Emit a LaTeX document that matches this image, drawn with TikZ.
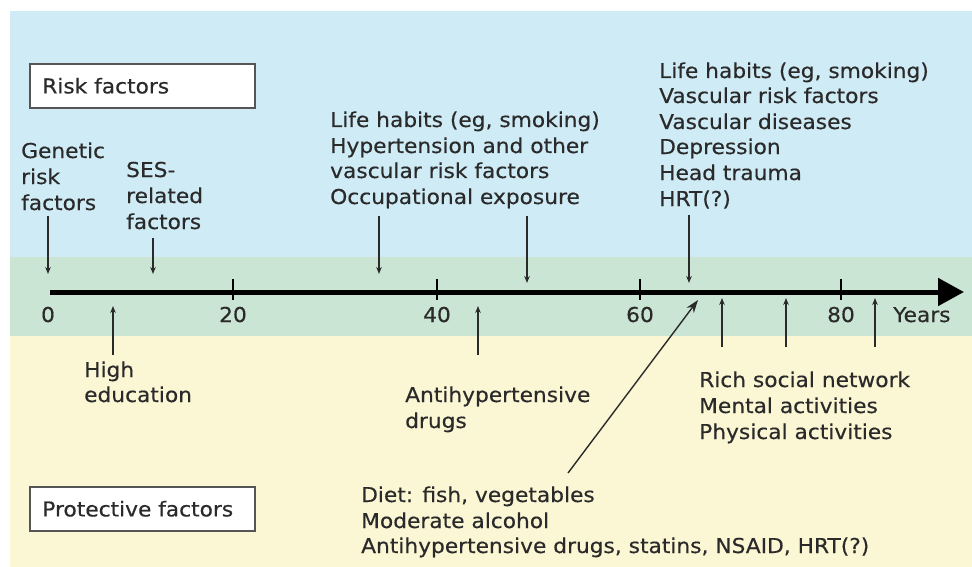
\documentclass[tikz,border=0pt]{standalone}
\usepackage{fontspec}
\setmainfont[FakeStretch=1.06,FakeBold=0.4]{DejaVu Sans}
\usetikzlibrary{arrows.meta}
\definecolor{skyb}{HTML}{CFEBF5}
\definecolor{bandg}{HTML}{CAE5D3}
\definecolor{sandy}{HTML}{FBF7D5}
\definecolor{ink}{HTML}{2A2A2A}
\definecolor{boxc}{HTML}{555555}
\begin{document}
\begin{tikzpicture}[x=1pt,y=-1pt,
  txt/.style={font=\fontsize{20.5}{25}\selectfont, text=ink, inner sep=0pt, anchor=base west},
  ticklbl/.style={font=\fontsize{20.5}{25}\selectfont, text=ink, inner sep=0pt, anchor=base},
  fbox/.style={draw=boxc, fill=white, line width=1.6pt, font=\fontsize{20.5}{25}\selectfont, text=ink,
    anchor=north west, minimum height=44pt, text width=200pt, inner xsep=12.5pt, align=left},
  pointer/.style={draw=ink, line width=1.4pt, -{Stealth[length=7pt,width=5.5pt]}},
  tickmark/.style={draw=black, line width=1.6pt}]
\useasboundingbox (0,0) rectangle (972,567);
\fill[white] (0,0) rectangle (972,567);
\fill[skyb] (10,11) rectangle (972,257);
\fill[bandg] (10,257) rectangle (972,336);
\fill[sandy] (10,336) rectangle (972,567);

% boxes
\node[fbox] (rf) at (29,63) {Risk factors};
\node[fbox] (pf) at (29,486) {Protective factors};

% axis
\coordinate (axs) at (50,292);
\coordinate (axe) at (964,292);
\draw[line width=5pt, -{Triangle[length=26pt,width=27pt]}] (axs) -- (axe);
\foreach \x/\n in {233/t20,437/t40,640/t60,841/t80}{
  \coordinate (\n a) at (\x,279);
  \coordinate (\n b) at (\x,300);
  \draw[tickmark] (\n a) -- (\n b);
}
\node[ticklbl] (l0) at (48,322) {0};
\node[ticklbl] (l20) at (233,322) {20};
\node[ticklbl] (l40) at (437,322) {40};
\node[ticklbl] (l60) at (640,322) {60};
\node[ticklbl] (l80) at (841,322) {80};
\node[txt] (yrs) at (893,322) {Years};

% risk texts
\node[txt] (g1) at (21,158) {Genetic};
\node[txt] (g2) at (21,184) {risk};
\node[txt] (g3) at (21,210) {factors};
\node[txt] (s1) at (126,177) {SES-};
\node[txt] (s2) at (126,203) {related};
\node[txt] (s3) at (126,229) {factors};
\node[txt] (m1) at (330,127) {Life habits (eg, smoking)};
\node[txt] (m2) at (330,153) {Hypertension and other};
\node[txt] (m3) at (330,178) {vascular risk factors};
\node[txt] (m4) at (330,204) {Occupational exposure};
\node[txt] (o1) at (659,78) {Life habits (eg, smoking)};
\node[txt] (o2) at (659,103) {Vascular risk factors};
\node[txt] (o3) at (659,129) {Vascular diseases};
\node[txt] (o4) at (659,154) {Depression};
\node[txt] (o5) at (659,180) {Head trauma};
\node[txt] (o6) at (659,206) {HRT(?)};

% protective texts
\node[txt] (h1) at (84,377) {High};
\node[txt] (h2) at (84,402) {education};
\node[txt] (a1) at (405,402) {Antihypertensive};
\node[txt] (a2) at (405,428) {drugs};
\node[txt] (r1) at (699,387) {Rich social network};
\node[txt] (r2) at (699,413) {Mental activities};
\node[txt] (r3) at (699,439) {Physical activities};
\node[txt] (d1) at (361,502) {Diet: fish, vegetables};
\node[txt] (d2) at (361,528) {Moderate alcohol};
\node[txt] (d3) at (361,553) {Antihypertensive drugs, statins, NSAID, HRT(?)};

% risk arrows
\coordinate (ga) at (48,216);  \coordinate (gb) at (48,274);
\coordinate (sa) at (153,238); \coordinate (sb) at (153,274);
\coordinate (ma) at (379,216); \coordinate (mb) at (379,274);
\coordinate (ea) at (527,216); \coordinate (eb) at (527,283);
\coordinate (oa) at (689,215); \coordinate (ob) at (689,283);
\draw[pointer] (ga) -- (gb);
\draw[pointer] (sa) -- (sb);
\draw[pointer] (ma) -- (mb);
\draw[pointer] (ea) -- (eb);
\draw[pointer] (oa) -- (ob);

% protective arrows
\coordinate (ha) at (113,355); \coordinate (hb) at (113,306);
\coordinate (aa) at (478,355); \coordinate (ab) at (478,306);
\coordinate (p1a) at (722,347); \coordinate (p1b) at (722,298);
\coordinate (p2a) at (786,347); \coordinate (p2b) at (786,298);
\coordinate (p3a) at (875,347); \coordinate (p3b) at (875,298);
\coordinate (da) at (568,473); \coordinate (db) at (698,300);
\draw[pointer] (ha) -- (hb);
\draw[pointer] (aa) -- (ab);
\draw[pointer] (p1a) -- (p1b);
\draw[pointer] (p2a) -- (p2b);
\draw[pointer] (p3a) -- (p3b);
\draw[pointer, -{Stealth[length=13pt,width=9pt]}] (da) -- (db);
\end{tikzpicture}
\end{document}
